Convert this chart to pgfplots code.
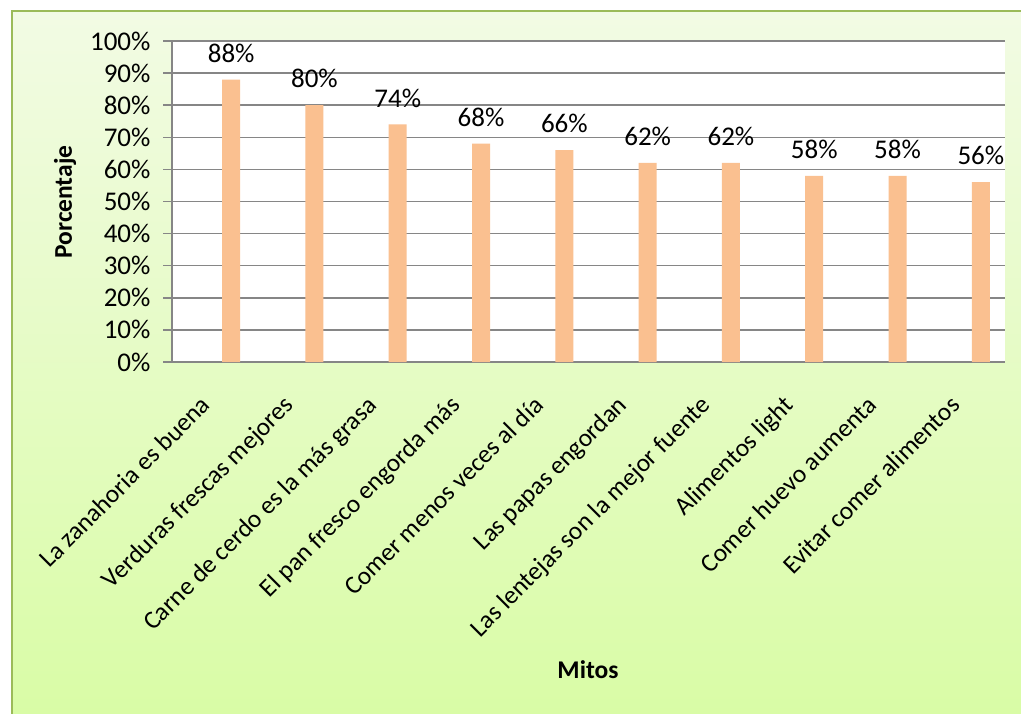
\documentclass[border=0pt]{standalone}
\usepackage{pgfplots}
\pgfplotsset{compat=1.18}
\usepackage{fontspec}
\setmainfont{Carlito}
\definecolor{bgtop}{RGB}{242,251,228}
\definecolor{bgbot}{RGB}{217,252,166}
\definecolor{bordergreen}{RGB}{155,187,89}
\definecolor{gridgray}{RGB}{134,134,134}
\definecolor{barcol}{RGB}{250,192,144}
\newcommand{\cf}{\fontsize{25.5}{30}\selectfont}
\newcommand{\nf}{\fontsize{27}{32}\selectfont}
\begin{document}
\begin{tikzpicture}[x=1pt,y=1pt]
\useasboundingbox (0,0) rectangle (1021,713);
\shade[top color=bgtop,bottom color=bgbot] (12,0) rectangle (1021,702);
\draw[bordergreen, line width=2pt] (12,-5) -- (12,702) -- (1030,702);
\begin{axis}[
  at={(172pt,351pt)}, anchor=south west,
  scale only axis, width=833pt, height=321pt,
  xmin=-0.5, xmax=9.5, ymin=0, ymax=100,
  axis background/.style={fill=white},
  axis x line*=bottom, axis y line*=left,
  axis line style={gridgray, line width=1.5pt},
  ytick={0,10,...,100},
  yticklabels={0\%,10\%,20\%,30\%,40\%,50\%,60\%,70\%,80\%,90\%,100\%},
  ymajorgrids, grid style={gridgray, line width=1.5pt},
  ytick style={gridgray, line width=1.5pt},
  tick align=outside, major tick length=9pt,
  tick label style={text=black},
  yticklabel style={font=\nf, xshift=-9pt},
  xtick={0,...,9},
  xtick style={draw=none},
  xticklabels={La zanahoria es buena, Verduras frescas mejores, Carne de cerdo es la más grasa, El pan fresco engorda más, Comer menos veces al día, Las papas engordan, Las lentejas son la mejor fuente, Alimentos light, Comer huevo aumenta, Evitar comer alimentos},
  xticklabel style={font=\cf, rotate=45, anchor=north east, inner sep=0pt, xshift=-26.5pt, yshift=-6pt},
  clip=false,
]
\addplot[ybar, bar width=18pt, bar shift=17.5pt, fill=barcol, draw=none,
  nodes near coords={\pgfmathprintnumber[assume math mode=true]{\pgfplotspointmeta}\%},
  every node near coord/.append style={font=\nf, text=black, anchor=south, inner sep=0pt, xshift=17.5pt, yshift=17pt}]
  coordinates {(0,88) (1,80) (2,74) (3,68) (4,66) (5,62) (6,62) (7,58) (8,58) (9,56)};
\end{axis}
\node[font=\cf\bfseries] at (588,43) {Mitos};
\node[font=\cf\bfseries, rotate=90] at (65,511) {Porcentaje};
\end{tikzpicture}
\end{document}
